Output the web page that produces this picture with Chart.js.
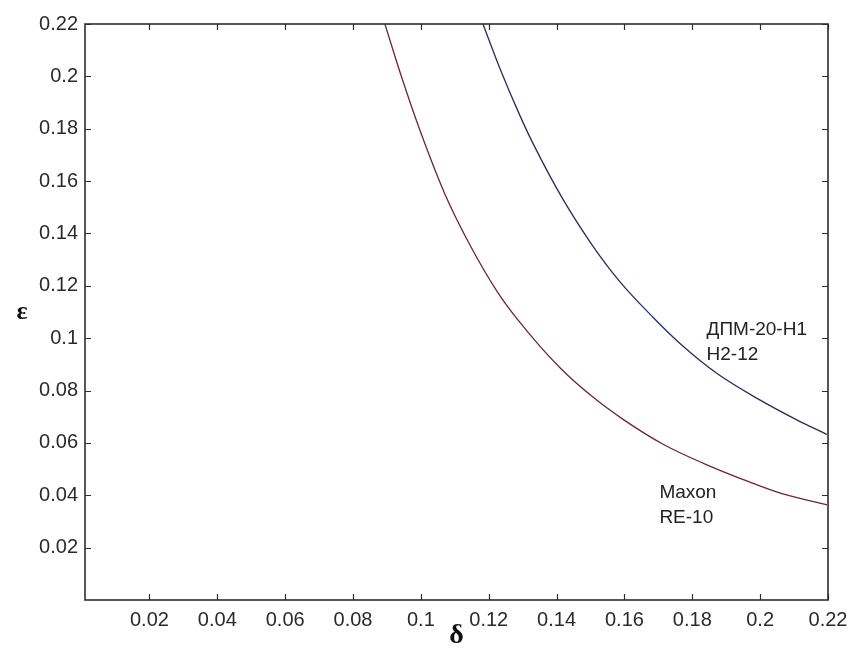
<!DOCTYPE html>
<html>
<head>
<meta charset="utf-8">
<script src="https://cdn.jsdelivr.net/npm/chart.js@4"></script>
<style>
html,body{margin:0;padding:0;background:#fff;}
#wrap{width:852px;height:657px;position:relative;}
</style>
</head>
<body>
<div id="wrap"><canvas id="c" width="852" height="657"></canvas></div>
<script>
// Data
const maxonDelta = [0.0894, 0.0940, 0.0997, 0.1071, 0.1145, 0.1224, 0.1283, 0.1410, 0.1507, 0.1596, 0.1714, 0.1831, 0.1970, 0.2067, 0.2197];
const maxonEps   = [0.2200, 0.2010, 0.1795, 0.1550, 0.1355, 0.1180, 0.1075, 0.0887, 0.0775, 0.0690, 0.0595, 0.0523, 0.0450, 0.0405, 0.0363];
const dpmDelta = [0.1183, 0.1233, 0.1292, 0.1330, 0.1419, 0.1507, 0.1587, 0.1684, 0.1772, 0.1873, 0.1991, 0.2108, 0.2197];
const dpmEps   = [0.2200, 0.2030, 0.1850, 0.1745, 0.1530, 0.1352, 0.1215, 0.1080, 0.0970, 0.0865, 0.0770, 0.0688, 0.0632];
const xTicks = [0.02, 0.04, 0.06, 0.08, 0.1, 0.12, 0.14, 0.16, 0.18, 0.2, 0.22];
const yTicks = [0.02, 0.04, 0.06, 0.08, 0.1, 0.12, 0.14, 0.16, 0.18, 0.2, 0.22];
const xRange = [0.001, 0.22];
const yRange = [0, 0.22];
const seriesNames = ['Maxon RE-10', 'ДПМ-20-Н1 Н2-12'];
const curveLabels = [
  {lines: ['Maxon', 'RE-10'], x: 0.1703, y: 0.0415},
  {lines: ['ДПМ-20-Н1', 'Н2-12'], x: 0.1842, y: 0.1035}
];
const xTitle = 'δ';
const yTitle = 'ε';

const FONT = "'Liberation Sans', Arial, sans-serif";
const AXIS = '#2e2e2e';

const toPts = (xs, ys) => xs.map((x, i) => ({x: x, y: ys[i]}));

const framePlugin = {
  id: 'frame',
  afterDraw(chart) {
    const ctx = chart.ctx, a = chart.chartArea;
    const xs = chart.scales.x, ys = chart.scales.y;
    ctx.save();
    ctx.strokeStyle = AXIS;
    ctx.lineWidth = 1.6;
    ctx.strokeRect(a.left, a.top, a.right - a.left, a.bottom - a.top);
    ctx.lineWidth = 1.2;
    const L = 6;
    ctx.beginPath();
    xTicks.forEach(t => {
      const px = Math.round(xs.getPixelForValue(t)) + 0.5;
      ctx.moveTo(px, a.bottom); ctx.lineTo(px, a.bottom - L);
      ctx.moveTo(px, a.top); ctx.lineTo(px, a.top + L);
    });
    yTicks.forEach(t => {
      const py = Math.round(ys.getPixelForValue(t)) + 0.5;
      ctx.moveTo(a.left, py); ctx.lineTo(a.left + L, py);
      ctx.moveTo(a.right, py); ctx.lineTo(a.right - L, py);
    });
    ctx.stroke();
    // curve annotations
    ctx.fillStyle = '#222';
    ctx.font = "19px " + FONT;
    ctx.textAlign = 'left';
    ctx.textBaseline = 'middle';
    curveLabels.forEach(lb => {
      const px = xs.getPixelForValue(lb.x), py = ys.getPixelForValue(lb.y);
      lb.lines.forEach((s, i) => ctx.fillText(s, px, py + 1 + i * 25));
    });
    // axis titles
    ctx.fillStyle = '#111';
    ctx.textAlign = 'center';
    ctx.font = "bold 26px 'Liberation Serif', 'DejaVu Serif', serif";
    ctx.fillText(yTitle, 22, (a.top + a.bottom) / 2);
    ctx.font = "bold 28px 'Liberation Serif', 'DejaVu Serif', serif";
    ctx.fillText(xTitle, (a.left + a.right) / 2, 636);
    ctx.restore();
  }
};

new Chart(document.getElementById('c'), {
  type: 'scatter',
  data: {
    datasets: [
      {label: seriesNames[0], data: toPts(maxonDelta, maxonEps), showLine: true, borderColor: '#6e2636', borderWidth: 1.3, pointRadius: 0, cubicInterpolationMode: 'monotone', fill: false},
      {label: seriesNames[1], data: toPts(dpmDelta, dpmEps), showLine: true, borderColor: '#2a2a5e', borderWidth: 1.3, pointRadius: 0, cubicInterpolationMode: 'monotone', fill: false}
    ]
  },
  options: {
    responsive: false,
    animation: false,
    devicePixelRatio: 1,
    layout: {padding: {left: 0, right: 24, top: 24, bottom: 0}},
    plugins: {legend: {display: false}, tooltip: {enabled: false}},
    scales: {
      x: {
        type: 'linear', min: xRange[0], max: xRange[1],
        afterBuildTicks: s => { s.ticks = xTicks.map(v => ({value: v})); },
        afterFit: s => { s.height = 57; s.paddingRight = 0; s.paddingLeft = 0; },
        grid: {display: false, drawTicks: false},
        border: {display: false},
        ticks: {color: '#2a2a2a', font: {family: FONT, size: 20}, padding: 8, maxRotation: 0, autoSkip: false,
                callback: v => String(+v.toFixed(3))}
      },
      y: {
        type: 'linear', min: yRange[0], max: yRange[1],
        afterBuildTicks: s => { s.ticks = yTicks.map(v => ({value: v})); },
        afterFit: s => { s.width = 85; s.paddingTop = 0; s.paddingBottom = 0; },
        grid: {display: false, drawTicks: false},
        border: {display: false},
        ticks: {color: '#2a2a2a', font: {family: FONT, size: 20}, padding: 7, autoSkip: false,
                callback: v => String(+v.toFixed(3))}
      }
    }
  },
  plugins: [framePlugin]
});
</script>
</body>
</html>
